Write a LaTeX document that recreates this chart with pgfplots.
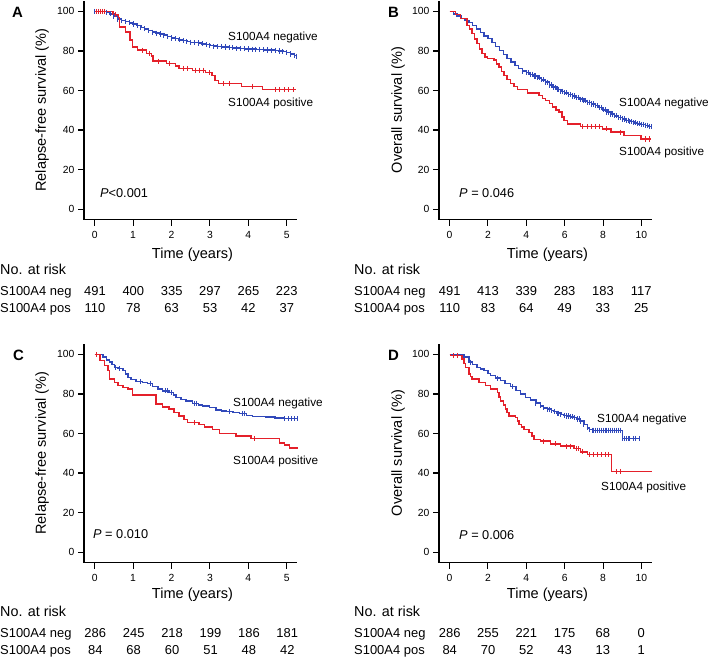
\documentclass[border=0pt]{standalone}
\usepackage{fontspec}
\setmainfont{Liberation Sans}
\usepackage{pgfplots}
\usepackage{pgfplotstable}
\pgfplotsset{compat=1.18}
\definecolor{kmblue}{RGB}{48,72,186}
\definecolor{kmred}{RGB}{228,32,42}
\newcommand{\fs}[1]{\fontsize{#1}{#1}\selectfont}
\pgfplotsset{
  km/.style={
    scale only axis, width=213bp, height=219bp, anchor=south west,
    axis x line=bottom, axis y line=left,
    axis line style={-, line width=1.1bp, black},
    every outer x axis line/.append style={-},
    every outer y axis line/.append style={-},
    tick align=outside, major tick length=6bp,
    tick style={black, line width=1.1bp},
    ymin=-5.3, ymax=105.5, ytick={0,20,40,60,80,100},
    tick label style={font=\fs{10.4}},
    xticklabel style={yshift=-2bp},
    /pgf/number format/assume math mode=true,
    clip=false, minor tick num=0,
  },
  negl/.style={kmblue, line width=1.5bp, const plot, no marks},
  negc/.style={kmblue, only marks, mark=|, mark size=2.6bp, mark options={line width=0.9bp}},
  posl/.style={kmred, line width=1.5bp, const plot, no marks},
  posc/.style={kmred, only marks, mark=|, mark size=2.6bp, mark options={line width=0.9bp}},
}
\pgfplotstableread{
t S
0 100
0.1 100
0.2 100
0.3 99.6
0.4 98.8
0.5 97.6
0.6 96.2
0.7 95.4
0.8 94.8
0.9 94.2
1.0 93.6
1.1 92.8
1.2 91.9
1.3 91.2
1.4 90.4
1.5 89.5
1.6 89.0
1.7 88.6
1.8 88.0
1.9 87.2
2.0 86.6
2.1 86.2
2.2 85.6
2.3 85.2
2.4 84.8
2.5 84.4
2.6 84.2
2.7 84.0
2.8 83.6
2.9 83.2
3.0 82.8
3.1 82.4
3.2 82.2
3.3 82.1
3.4 82.0
3.5 81.8
3.6 81.6
3.7 81.4
3.8 81.3
3.9 81.1
4.0 81.0
4.1 80.9
4.2 80.8
4.3 80.7
4.4 80.6
4.5 80.5
4.6 80.4
4.7 80.2
4.8 80.0
4.9 79.6
5.0 79.2
5.1 78.5
5.2 77.8
5.25 77.3
}\Aneg
\pgfplotstableread{
t S
0 100
0.48 98.5
0.6 97
0.64 92.2
0.8 89.7
0.92 85.5
0.99 82
1.12 80.4
1.35 78.7
1.48 77.5
1.52 74.8
1.87 73.6
2.1 72.4
2.2 71.1
2.55 70.2
2.88 69
3.05 67.7
3.13 65.1
3.22 63.5
3.83 62.1
4.37 60.4
5.25 60.4
}\Apos
\pgfplotstableread{
t S
0 100
0.2 98.8
0.4 97.6
0.6 96.5
0.8 95.5
1.0 94.5
1.2 93.0
1.4 91.0
1.6 89.3
1.8 87.6
2.0 86.2
2.2 84.3
2.4 82.3
2.6 80.3
2.8 78.3
3.0 76.3
3.2 74.5
3.4 72.7
3.6 71.0
3.8 69.8
4.0 69.0
4.2 68.2
4.4 67.3
4.6 66.4
4.8 65.4
5.0 64.2
5.2 62.8
5.4 61.7
5.6 60.6
5.8 59.6
6.0 58.8
6.2 58.0
6.4 57.2
6.6 56.4
6.8 55.6
7.0 54.8
7.2 54.0
7.4 53.2
7.6 52.4
7.8 51.3
8.0 50.2
8.2 49.1
8.4 48.1
8.6 47.2
8.8 46.4
9.0 45.6
9.2 44.9
9.4 44.2
9.6 43.6
9.8 43.1
10.0 42.8
10.2 42.4
10.4 41.9
10.5 41.6
}\Bneg
\pgfplotstableread{
t S
0 100
0.3 98.5
0.57 96.4
0.92 93
1.05 91
1.18 88.8
1.3 86
1.44 83.8
1.57 81
1.7 78.7
1.85 77
1.97 76.1
2.31 75.3
2.45 73.5
2.57 71.9
2.7 69.5
2.83 67.7
3.0 65.5
3.18 63.5
3.35 62
3.53 60.6
4.05 58.7
4.66 57.5
4.85 56
5.0 55
5.2 53.3
5.36 51.6
5.55 50.2
5.7 49.1
5.85 46.5
5.97 44.8
6.14 43.1
6.83 41.8
7.97 40.6
8.4 38.9
9.1 37.2
9.97 35.5
10.5 35.5
}\Bpos
\pgfplotstableread{
t S
0 100
0.08 100
0.21 98.6
0.3 97.2
0.38 96.1
0.45 94.8
0.51 93.5
0.6 92.8
0.73 91.8
0.8 90.2
0.86 88.4
0.95 87.3
1.08 86.2
1.25 85.8
1.38 85.4
1.51 83.8
1.65 82.6
1.77 81.6
1.94 80.8
2.05 79.5
2.12 78.2
2.25 77.3
2.38 76.5
2.55 75.2
2.7 74.5
2.81 74
2.99 73.1
3.16 71.8
3.3 71.3
3.42 71.1
3.6 70.6
3.77 70.1
3.95 69.2
4.11 68.5
4.46 68.4
4.7 67.8
4.9 67.5
5.29 67.5
}\Cneg
\pgfplotstableread{
t S
0 100
0.14 96.9
0.25 94.4
0.34 91.8
0.39 87.6
0.51 85.9
0.6 84.2
0.73 83.3
0.86 82.5
0.99 79.6
1.6 74.8
1.77 73.5
1.94 72.3
2.07 70.6
2.2 68.9
2.33 67.2
2.42 65.5
2.72 64.6
2.86 63.3
3.07 62.1
3.25 60.0
3.68 58.7
4.07 57.5
4.81 55.3
4.94 54.1
5.07 52.7
5.29 52.7
}\Cpos
\pgfplotstableread{
t S
0 100
0.3 100
0.57 100
0.75 98.6
1.0 96.1
1.2 95.0
1.44 93.5
1.6 92.6
1.79 91.8
2.0 90.3
2.14 89.3
2.4 88.0
2.66 86.7
2.9 85.3
3.18 83.7
3.45 81.8
3.7 79.9
3.95 78.3
4.23 76.9
4.5 75.4
4.75 74.0
4.9 73.0
5.1 72.3
5.3 71.6
5.44 71.1
5.6 70.3
5.8 69.6
5.97 69.2
6.1 68.9
6.3 68.4
6.49 68.0
6.65 67.3
6.83 66.3
7.0 64.6
7.18 62.9
7.3 62.0
7.44 61.6
7.6 61.6
7.8 61.6
8.0 61.6
8.2 61.6
8.4 61.6
8.6 61.6
8.8 61.6
8.92 61.6
9.0 57.5
9.2 57.5
9.4 57.5
9.6 57.5
9.88 57.5
}\Dneg
\pgfplotstableread{
t S
0 100
0.05 99.4
0.66 97.8
0.75 95.5
0.83 93.5
1.0 90.1
1.1 88.8
1.18 87.6
1.53 85.9
1.88 84.2
2.14 82.5
2.49 80.8
2.58 78.5
2.66 76.5
2.8 74.5
2.92 72.3
3.0 70.5
3.1 68.9
3.44 68.0
3.53 66.3
3.62 64.6
3.75 63.3
3.88 62.1
4.14 60.4
4.3 58.7
4.4 57.0
4.75 56.1
5.27 54.8
5.79 53.6
6.49 52.4
6.83 50.7
7.18 49.3
8.43 40.8
10.57 40.8
}\Dpos
\begin{document}
\begin{tikzpicture}
\begin{scope}[x=1bp,y=-1bp]
\useasboundingbox (0,0) rectangle (709,657);
\end{scope}
% Panel A
\begin{axis}[km, at={(84bp,-219bp)}, xmin=-0.28, xmax=5.27, xtick={0,1,2,3,4,5}]
\addplot[negl] table {\Aneg};
\addplot[negc] table {\Aneg};
\addplot[posl] table {\Apos};
\addplot[posc] coordinates {(0.05,100)(0.1,100)(0.15,100)(0.2,100)(0.25,100)(0.55,98.5)(1.25,80.4)(1.42,78.7)(1.65,74.8)(1.95,73.6)(2.3,71.1)(2.42,71.1)(2.62,70.2)(2.72,70.2)(2.82,70.2)(2.98,69)(3.35,63.5)(3.5,63.5)(4.1,62.1)(4.7,60.4)(4.82,60.4)(4.94,60.4)(5.06,60.4)(5.18,60.4)};
\end{axis}
% Panel B
\begin{axis}[km, at={(439bp,-219bp)}, xmin=-0.55, xmax=10.55, xtick={0,2,4,6,8,10}]
\addplot[negl] table {\Bneg};
\addplot[negc, restrict x to domain=3.7:11] table {\Bneg};
\addplot[negc] coordinates {(4.1,69.0)(4.3,68.2)(4.5,67.3)(4.7,66.4)(4.9,65.4)(5.1,64.2)(5.3,62.8)(5.5,61.7)(5.7,60.6)(5.9,59.6)(6.1,58.8)(6.3,58.0)(6.5,57.2)(6.7,56.4)(6.9,55.6)(7.1,54.8)(7.3,54.0)(7.5,53.2)(7.7,52.4)(7.9,51.3)(8.1,50.2)(8.3,49.1)(8.5,48.1)(8.7,47.2)(8.9,46.4)(9.1,45.6)(9.3,44.9)(9.5,44.2)(9.7,43.6)(9.9,43.1)(10.1,42.8)(10.3,42.4)};
\addplot[posl] table {\Bpos};
\addplot[posc] coordinates {(6.9,41.8)(7.2,41.8)(7.4,41.8)(7.6,41.8)(7.8,41.8)(8.2,40.6)(8.9,38.9)(10.2,35.5)(10.4,35.5)};
\end{axis}
% Panel C
\begin{axis}[km, at={(84bp,-562bp)}, xmin=-0.28, xmax=5.27, xtick={0,1,2,3,4,5}]
\addplot[negl] table {\Cneg};
\addplot[negc] coordinates {(0.55,93.5)(0.65,92.8)(1.2,86.2)(1.45,85.4)(1.85,81.6)(1.9,81.6)(2.0,80.8)(2.6,75.2)(2.65,75.2)(3.5,71.1)(3.85,70.1)(3.9,70.1)(4.95,67.5)(5.05,67.5)(5.12,67.5)(5.2,67.5)(5.27,67.5)};
\addplot[posl] table {\Cpos};
\addplot[posc] coordinates {(0.05,100)(2.6,65.5)(4.15,57.5)};
\end{axis}
% Panel D
\begin{axis}[km, at={(439bp,-562bp)}, xmin=-0.55, xmax=10.55, xtick={0,2,4,6,8,10}]
\addplot[negl] table {\Dneg};
\addplot[negc, restrict x to domain=4.4:11] table {\Dneg};
\addplot[negc] coordinates {(1.1,96.1)(2.5,88.0)(3.3,83.7)(5.2,72.3)(5.7,70.3)(6.2,68.9)(6.4,68.4)(6.75,67.3)(7.5,61.6)(7.7,61.6)(7.9,61.6)(8.1,61.6)(8.3,61.6)(8.5,61.6)(8.7,61.6)(9.1,57.5)(9.3,57.5)(9.7,57.5)};
\addplot[posl] table {\Dpos};
\addplot[posc] coordinates {(0.2,99.4)(0.4,99.4)(4.9,56.1)(5.5,54.8)(6.1,53.6)(6.3,53.6)(6.6,52.4)(6.7,52.4)(6.95,50.7)(7.3,49.3)(7.5,49.3)(7.7,49.3)(7.9,49.3)(8.1,49.3)(8.3,49.3)(8.7,40.8)(8.9,40.8)};
\end{axis}
\begin{scope}[x=1bp,y=-1bp]
% panel letters
\node[anchor=base west, inner sep=0, font=\bfseries\fs{15}] at (12,17.4) {A};
\node[anchor=base west, inner sep=0, font=\bfseries\fs{15}] at (388,17.4) {B};
\node[anchor=base west, inner sep=0, font=\bfseries\fs{15}] at (13,360.4) {C};
\node[anchor=base west, inner sep=0, font=\bfseries\fs{15}] at (388,360.4) {D};
% y labels
\node[rotate=90, font=\fs{14.6}] at (42,109.5) {Relapse-free survival (\%)};
\node[rotate=90, font=\fs{14.6}] at (398,109.5) {Overall survival (\%)};
\node[rotate=90, font=\fs{14.6}] at (42,452.5) {Relapse-free survival (\%)};
\node[rotate=90, font=\fs{14.6}] at (398,452.5) {Overall survival (\%)};
% x labels
\node[anchor=base, font=\fs{14.6}] at (192.5,258.2) {Time (years)};
\node[anchor=base, font=\fs{14.6}] at (547.5,258.2) {Time (years)};
\node[anchor=base, font=\fs{14.6}] at (192.5,598.2) {Time (years)};
\node[anchor=base, font=\fs{14.6}] at (547.5,598.2) {Time (years)};
% curve labels
\begin{scope}[every node/.style={anchor=base west, inner sep=0, font=\fs{11.8}}]
\node at (228,40.2) {S100A4 negative};
\node at (228,106.2) {S100A4 positive};
\node at (619,106.2) {S100A4 negative};
\node at (619,155.2) {S100A4 positive};
\node at (233,406.2) {S100A4 negative};
\node at (233,463.5) {S100A4 positive};
\node at (597,421.5) {S100A4 negative};
\node at (601,490.0) {S100A4 positive};
\end{scope}
% P values
\begin{scope}[every node/.style={anchor=base west, inner sep=0, font=\fs{12.8}}]
\node at (100,196.9) {\textit{P}<0.001};
\node at (459,196.9) {\textit{P} = 0.046};
\node at (93,537.9) {\textit{P} = 0.010};
\node at (459,538.9) {\textit{P} = 0.006};
\end{scope}
% at-risk tables
\begin{scope}[every node/.style={anchor=base west, inner sep=0}]
\node[font=\fs{14.4}] at (0,274.2) {No. at risk};
\node[font=\fs{13}] at (0,294.7) {S100A4 neg};
\node[font=\fs{13}] at (0,311.7) {S100A4 pos};
\node[font=\fs{14.4}] at (354,274.2) {No. at risk};
\node[font=\fs{13}] at (354,294.7) {S100A4 neg};
\node[font=\fs{13}] at (354,311.7) {S100A4 pos};
\node[font=\fs{14.4}] at (0,616.2) {No. at risk};
\node[font=\fs{13}] at (0,636.7) {S100A4 neg};
\node[font=\fs{13}] at (0,653.7) {S100A4 pos};
\node[font=\fs{14.4}] at (354,616.2) {No. at risk};
\node[font=\fs{13}] at (354,636.7) {S100A4 neg};
\node[font=\fs{13}] at (354,653.7) {S100A4 pos};
\end{scope}
\begin{scope}[every node/.style={anchor=base, inner sep=0, font=\fs{13}}]
\foreach \x/\a/\b in {95/491/110, 133.35/400/78, 171.7/335/63, 210.05/297/53, 248.4/265/42, 286.75/223/37}
  {\node at (\x,294.7) {\a}; \node at (\x,311.7) {\b};}
\foreach \x/\a/\b in {449.7/491/110, 488.0/413/83, 526.3/339/64, 564.6/283/49, 602.9/183/33, 641.2/117/25}
  {\node at (\x,294.7) {\a}; \node at (\x,311.7) {\b};}
\foreach \x/\a/\b in {95.3/286/84, 133.7/245/68, 172.1/218/60, 210.5/199/51, 248.9/186/48, 287.3/181/42}
  {\node at (\x,636.7) {\a}; \node at (\x,653.7) {\b};}
\foreach \x/\a/\b in {449.7/286/84, 488.0/255/70, 526.3/221/52, 564.6/175/43, 602.9/68/13, 641.2/0/1}
  {\node at (\x,636.7) {\a}; \node at (\x,653.7) {\b};}
\end{scope}
\end{scope}
\end{tikzpicture}
\end{document}
